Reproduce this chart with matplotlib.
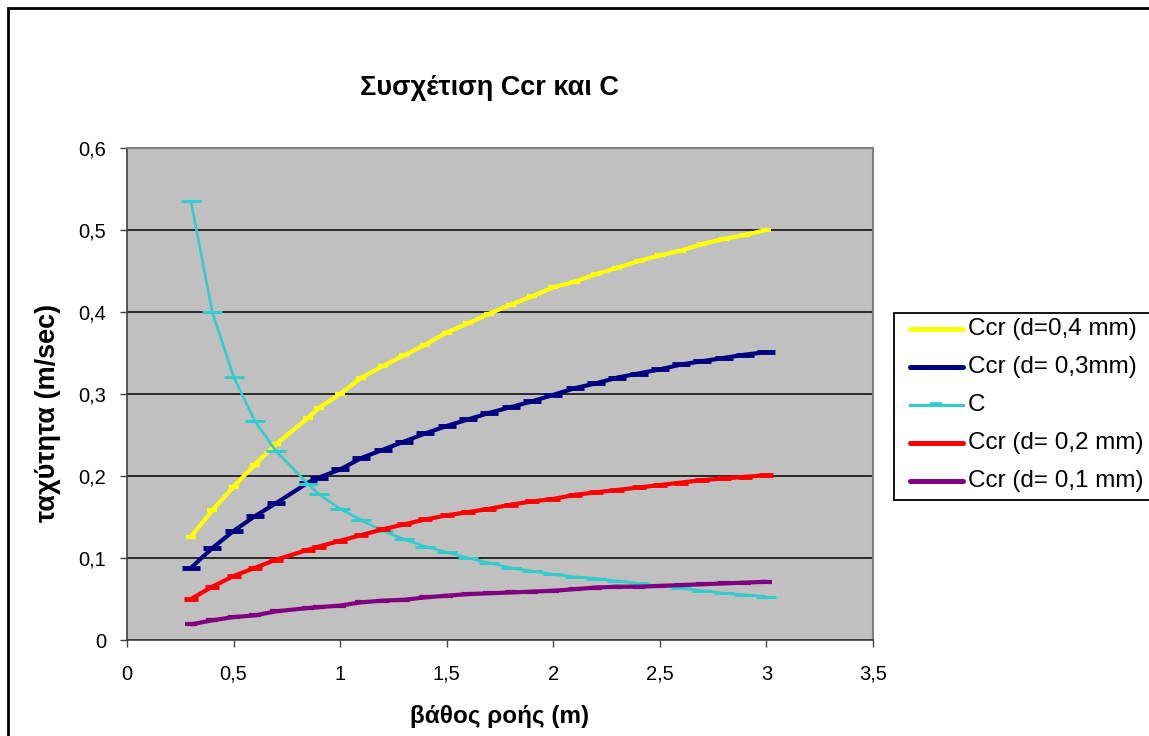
import matplotlib
matplotlib.use("Agg")
import matplotlib.pyplot as plt
from matplotlib.lines import Line2D
from matplotlib.patches import Rectangle

plt.rcParams['font.family'] = ['Liberation Sans', 'DejaVu Sans']

# flow depth (m)
depth = [0.3, 0.4, 0.5, 0.6, 0.7, 0.85, 0.9, 1.0, 1.1, 1.2, 1.3, 1.4, 1.5, 1.6,
         1.7, 1.8, 1.9, 2.0, 2.1, 2.2, 2.3, 2.4, 2.5, 2.6, 2.7, 2.8, 2.9, 3.0]

ccr_04 = [0.126, 0.158, 0.187, 0.214, 0.239, 0.271, 0.283, 0.300, 0.320, 0.334,
          0.347, 0.360, 0.375, 0.386, 0.398, 0.409, 0.419, 0.430, 0.437, 0.446,
          0.454, 0.462, 0.469, 0.475, 0.483, 0.489, 0.494, 0.500]
ccr_03 = [0.088, 0.112, 0.133, 0.151, 0.167, 0.192, 0.198, 0.208, 0.222, 0.232,
          0.242, 0.252, 0.261, 0.269, 0.277, 0.284, 0.291, 0.299, 0.307, 0.313,
          0.320, 0.325, 0.330, 0.336, 0.340, 0.344, 0.348, 0.351]
c_vals = [0.535, 0.400, 0.321, 0.267, 0.230, 0.190, 0.178, 0.160, 0.146, 0.133,
          0.123, 0.114, 0.107, 0.100, 0.094, 0.088, 0.084, 0.080, 0.077, 0.075,
          0.072, 0.069, 0.066, 0.063, 0.060, 0.057, 0.055, 0.053]
ccr_02 = [0.050, 0.065, 0.078, 0.088, 0.098, 0.110, 0.114, 0.121, 0.128, 0.135,
          0.141, 0.147, 0.152, 0.156, 0.160, 0.165, 0.169, 0.172, 0.177, 0.180,
          0.183, 0.186, 0.189, 0.192, 0.195, 0.197, 0.199, 0.201]
ccr_01 = [0.019, 0.024, 0.028, 0.030, 0.035, 0.039, 0.040, 0.042, 0.046, 0.048,
          0.049, 0.052, 0.054, 0.056, 0.057, 0.058, 0.059, 0.060, 0.062, 0.064,
          0.065, 0.065, 0.066, 0.067, 0.068, 0.069, 0.070, 0.071]

labels = ["Ccr (d=0,4 mm)", "Ccr (d= 0,3mm)", "C", "Ccr (d= 0,2 mm)", "Ccr (d= 0,1 mm)"]
colors = ["#FFFF00", "#000080", "#33CCCC", "#FF0000", "#800080"]

yticks = [0, 0.1, 0.2, 0.3, 0.4, 0.5, 0.6]
ytick_labels = ["0", "0,1", "0,2", "0,3", "0,4", "0,5", "0,6"]
xticks = [0, 0.5, 1, 1.5, 2, 2.5, 3, 3.5]
xtick_labels = ["0", "0,5", "1", "1,5", "2", "2,5", "3", "3,5"]

W, H = 1149, 736
fig = plt.figure(figsize=(W / 100, H / 100), dpi=100)
fig.patch.set_facecolor("white")
ax = fig.add_axes([127 / W, 1 - 640 / H, (873 - 127) / W, (640 - 148) / H])
ax.set_facecolor("#C0C0C0")

series = [ccr_04, ccr_03, c_vals, ccr_02, ccr_01]
lws = [3.0, 3.0, 1.9, 3.0, 3.0]
msizes = [7, 13, 14, 10, 8]
mews = [3.0, 3.5, 2.2, 3.5, 3.0]
for i, (vals, col) in enumerate(zip(series, colors)):
    ax.plot(depth, vals, color=col, lw=lws[i], marker="_", ms=msizes[i],
            mew=mews[i], solid_joinstyle="round", solid_capstyle="butt",
            zorder=3 + i)

ax.set_xlim(0, 3.5)
ax.set_ylim(0, 0.6)
ax.set_xticks(xticks)
ax.set_xticklabels(xtick_labels)
ax.set_yticks(yticks)
ax.set_yticklabels(ytick_labels)
ax.tick_params(axis="both", direction="out", length=5, width=1, color="#404040",
               labelsize=14.5)
ax.tick_params(axis="x", pad=13)
ax.tick_params(axis="y", pad=10)
ax.yaxis.grid(True, color="black", lw=1.1)
ax.set_axisbelow(True)
for side in ["top", "right"]:
    ax.spines[side].set_color("#808080")
    ax.spines[side].set_linewidth(1.5)
for side in ["left", "bottom"]:
    ax.spines[side].set_color("#404040")
    ax.spines[side].set_linewidth(1.2)

fig.text(489 / W, 1 - 88 / H, "Συσχέτιση Ccr και C", ha="center", va="center",
         fontsize=19.5, fontweight="bold")
fig.text(500 / W, 1 - 717 / H, "βάθος ροής (m)", ha="center", va="center",
         fontsize=17.5, fontweight="bold")
fig.text(48 / W, 1 - 413 / H, "ταχύτητα (m/sec)", ha="center", va="center",
         rotation=90, fontsize=19.5, fontweight="bold")

# legend box, drawn in figure pixels
def fx(px):
    return px / W


def fy(py):
    return 1 - py / H


fig.patches.append(Rectangle((fx(894), fy(500)), 1.0, (500 - 313) / H,
                             transform=fig.transFigure, facecolor="white",
                             edgecolor="black", lw=1.3, clip_on=False, zorder=10))
entry_y = [329, 367, 405, 443, 481]
for lab, col, ey, i in zip(labels, colors, entry_y, range(5)):
    if i == 2:
        ln = Line2D([fx(910), fx(963)], [fy(ey), fy(ey)], color=col, lw=2.2,
                    transform=fig.transFigure, zorder=11)
        mk = Line2D([fx(936.5)], [fy(ey - 0.5)], color=col, marker="_", ms=9,
                    mew=2.6, transform=fig.transFigure, zorder=11)
        fig.lines.append(mk)
    else:
        ln = Line2D([fx(910), fx(963)], [fy(ey), fy(ey)], color=col, lw=3.6,
                    solid_capstyle="round", transform=fig.transFigure, zorder=11)
    fig.lines.append(ln)
    fig.text(fx(968), fy(ey), lab, ha="left", va="center", fontsize=17.5,
             zorder=12)

# outer chart border
fig.patches.append(Rectangle((8 / W, -0.05), 1.2, 1 - 8 / H + 0.05,
                             transform=fig.transFigure, fill=False,
                             edgecolor="black", lw=2, clip_on=False))

fig.savefig("out.png", dpi=100, facecolor="white")
